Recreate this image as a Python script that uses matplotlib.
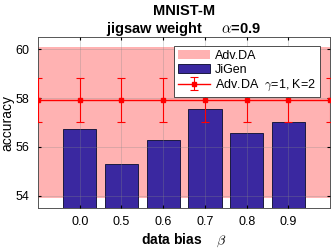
import matplotlib.pyplot as plt
import numpy as np

plt.rcParams['font.family'] = ['Liberation Sans', 'DejaVu Sans']
plt.rcParams['mathtext.fontset'] = 'cm'

bias_labels = ['0.0', '0.5', '0.6', '0.7', '0.8', '0.9']
jigen_acc = [56.72, 55.29, 56.27, 57.56, 56.57, 57.02]
advda_mean = 57.91
advda_err = 0.9
advda_band = [53.9, 60.08]

fig = plt.figure(figsize=(3.32, 2.48), dpi=100)
ax = fig.add_axes([0.1145, 0.161, 0.88, 0.69])

x = np.arange(len(bias_labels))
xl = np.arange(-1, len(bias_labels) + 1)

ax.axhspan(advda_band[0], advda_band[1], color='#ff0000', alpha=0.3, lw=0,
           label='Adv.DA', zorder=1)
ax.bar(x, jigen_acc, width=0.8, color='#3a28a0', edgecolor='#1a1a40', linewidth=0.7,
       label='JiGen', zorder=2)
ax.errorbar(xl, [advda_mean] * len(xl), yerr=advda_err, color='red', lw=1,
            marker='s', ms=2.5, capsize=3, capthick=0.8, elinewidth=0.8,
            label=r'Adv.DA  $\gamma$=1, K=2', zorder=4)

ax.set_xlim(-1, 6)
ax.set_ylim(53.5, 60.5)
ax.set_xticks(x)
ax.set_xticklabels(bias_labels)
ax.set_yticks([54, 56, 58, 60])
ax.tick_params(labelsize=9, length=2, direction='in', top=True, right=True, pad=6)
ax.grid(True, color='#888888', alpha=0.35, lw=0.6, zorder=5)
ax.set_axisbelow(False)
for s in ax.spines.values():
    s.set_color('#555555')
    s.set_linewidth(0.7)

ax.set_ylabel('accuracy', fontsize=10, labelpad=1)
ax.set_xlabel(r'data bias    $\beta$', fontsize=10, fontweight='bold', labelpad=2)
ax.set_title('MNIST-M\njigsaw weight     ' + r'$\alpha$' + '=0.9', fontsize=10.5,
             fontweight='bold', linespacing=1.1, pad=3)

h, l = ax.get_legend_handles_labels()
order = [l.index('Adv.DA'), l.index('JiGen'), 2]
leg = ax.legend([h[i] for i in order], [l[i] for i in order], loc='upper right',
                bbox_to_anchor=(0.965, 0.945), fontsize=9, fancybox=False,
                framealpha=1, edgecolor='#333333', borderpad=0.3, labelspacing=0.15,
                handlelength=2.6, handletextpad=0.4, borderaxespad=0)
leg.get_frame().set_linewidth(0.6)
leg.set_zorder(10)

fig.savefig('out.png', dpi=100)
